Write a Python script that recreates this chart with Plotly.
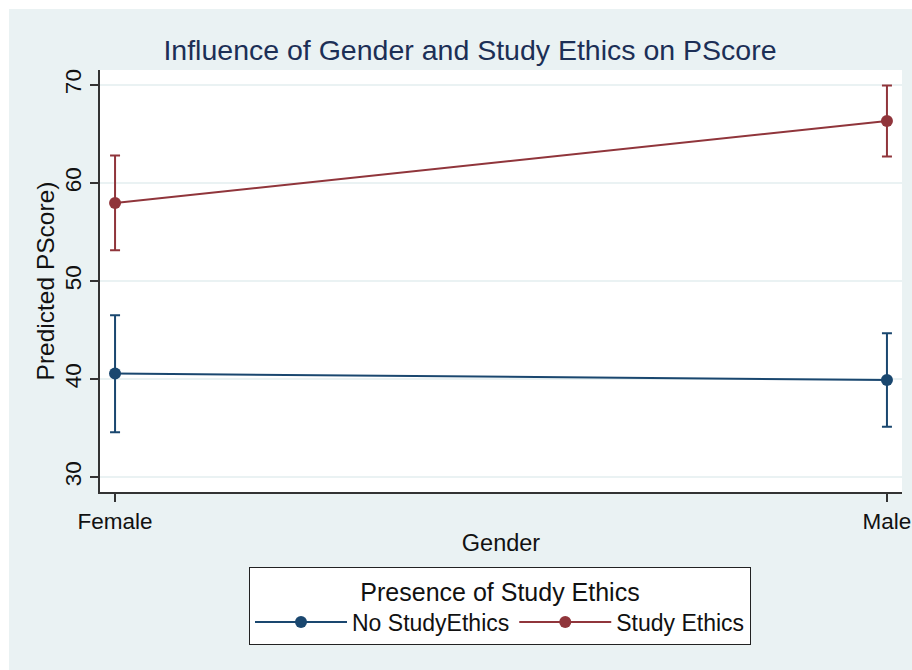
import plotly.graph_objects as go

# Predictive margins of PScore by gender and study-ethics group
genders = ["Female", "Male"]
groups = ["No StudyEthics", "Study Ethics"]
margin_no = [40.55, 39.9]
ci_low_no = [34.57, 35.14]
ci_high_no = [46.5, 44.66]
margin_yes = [57.97, 66.33]
ci_low_yes = [53.13, 62.7]
ci_high_yes = [62.8, 69.95]
y_ticks = [30, 40, 50, 60, 70]

NAVY = "#1a476f"
MAROON = "#90353b"
BG = "#eaf2f3"
FONT = "Liberation Sans, Arial, sans-serif"

fig = go.Figure()
series = [
    (groups[0], margin_no, ci_low_no, ci_high_no, NAVY),
    (groups[1], margin_yes, ci_low_yes, ci_high_yes, MAROON),
]
for name, m, lo, hi, col in series:
    fig.add_trace(go.Scatter(
        x=genders, y=m, name=name, mode="lines+markers",
        line=dict(color=col, width=2),
        marker=dict(color=col, size=12),
        error_y=dict(type="data", symmetric=False,
                     array=[h - v for h, v in zip(hi, m)],
                     arrayminus=[v - l for v, l in zip(m, lo)],
                     color=col, thickness=2, width=5),
    ))

W, H = 912, 670
L, R, T, B = 100, 10, 70, 178
pw, ph = W - L - R, H - T - B

fig.update_layout(
    width=W, height=H,
    margin=dict(l=L, r=R, t=T, b=B),
    paper_bgcolor=BG, plot_bgcolor="white",
    font=dict(family=FONT, color="#111111"),
    title=dict(text="Influence of Gender and Study Ethics on PScore",
               x=470 / W, xanchor="center", xref="container",
               y=1 - 50 / H, yanchor="middle", yref="container",
               font=dict(size=28.5, color="#1c2f56")),
    showlegend=True,
    legend=dict(
        orientation="h",
        x=(500 - L) / pw, xanchor="center",
        y=(T + ph - 567) / ph, yanchor="top",
        bgcolor="white", bordercolor="#222222", borderwidth=1,
        font=dict(size=23, color="#111111"),
        title=dict(text="Presence of Study Ethics", side="top center",
                   font=dict(size=25, color="#111111")),
        itemwidth=92,
    ),
    xaxis=dict(
        type="category", range=[-0.0195, 1.0195], automargin=False,
        showline=True, linecolor="#333333", linewidth=1.5,
        ticks="outside", ticklen=8, tickcolor="#333333", tickwidth=1.5,
        tickfont=dict(size=22.5, color="#111111"),
        showgrid=False, zeroline=False,
        title=dict(text="Gender", font=dict(size=23.5, color="#111111"),
                   standoff=2),
    ),
    yaxis=dict(
        range=[28.47, 71.53], tickvals=y_ticks, tickangle=-90, automargin=False,
        showline=True, linecolor="#333333", linewidth=1.5,
        ticks="outside", ticklen=8, tickcolor="#333333", tickwidth=1.5,
        tickfont=dict(size=22.5, color="#111111"),
        showgrid=True, gridcolor=BG, gridwidth=2, zeroline=False,
        title=dict(text="Predicted PScore)", font=dict(size=24.5, color="#111111"),
                   standoff=0),
    ),
)

# white frame strips along the top and left edges of the page
fig.add_shape(type="rect", xref="paper", yref="paper", layer="above",
              x0=-L / pw, x1=(W - L) / pw, y0=(T + ph - 9) / ph, y1=(T + ph) / ph,
              line=dict(width=0), fillcolor="white")
fig.add_shape(type="rect", xref="paper", yref="paper", layer="above",
              x0=-L / pw, x1=(9 - L) / pw, y0=-B / ph, y1=(T + ph) / ph,
              line=dict(width=0), fillcolor="white")

fig.write_html("out.html")
